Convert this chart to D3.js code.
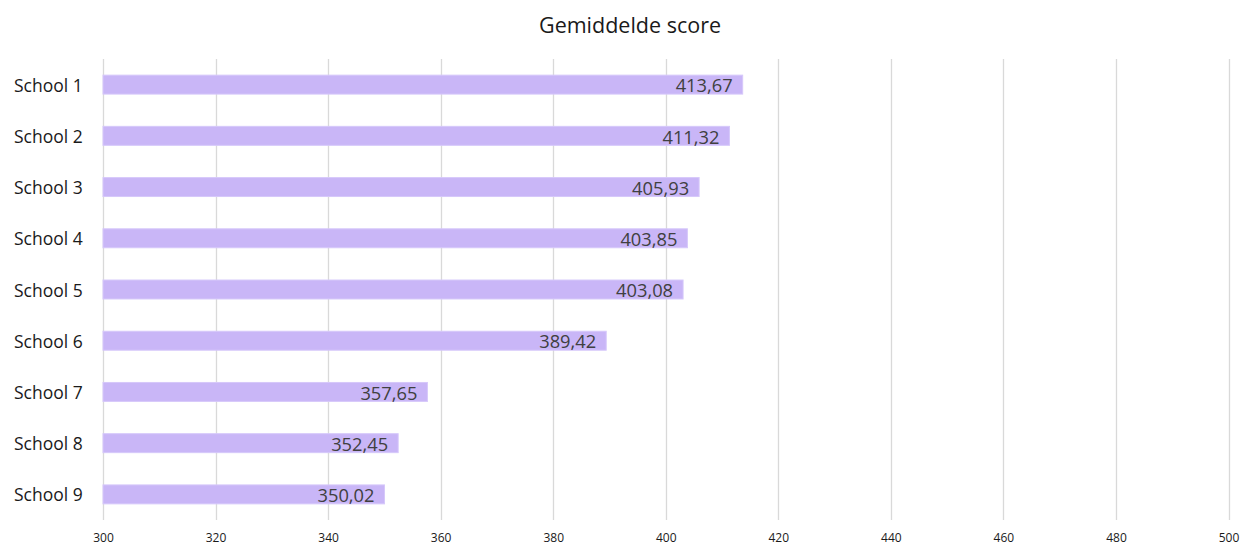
<!DOCTYPE html>
<html>
<head>
<meta charset="utf-8">
<script src="https://cdn.jsdelivr.net/npm/d3@7"></script>
<style>
  body { margin: 0; background: #fff; }
  svg { display: block; font-family: "Open Sans", sans-serif; }
</style>
</head>
<body>
<div id="chart"></div>
<script>
// data
const schools = ['School 1', 'School 2', 'School 3', 'School 4', 'School 5', 'School 6', 'School 7', 'School 8', 'School 9'];
const scores = [413.67, 411.32, 405.93, 403.85, 403.08, 389.42, 357.65, 352.45, 350.02];
const xTicks = [300, 320, 340, 360, 380, 400, 420, 440, 460, 480, 500];

const width = 1243;
const height = 546;
const margin = { top: 59, right: 14, bottom: 26, left: 103 };

const svg = d3.select('#chart')
  .append('svg')
  .attr('width', width)
  .attr('height', height);

const x = d3.scaleLinear()
  .domain([300, 500])
  .range([margin.left, width - margin.right - 0.5]);

const y = d3.scaleBand()
  .domain(schools)
  .range([margin.top, height - margin.bottom])
  .paddingInner(0.63)
  .paddingOuter(0.315);

// title
svg.append('text')
  .attr('x', 630)
  .attr('y', 33)
  .attr('text-anchor', 'middle')
  .attr('font-size', 21.5)
  .attr('fill', '#1a1a1a')
  .text('Gemiddelde score');

// gridlines
svg.append('g')
  .selectAll('line')
  .data(xTicks)
  .join('line')
  .attr('x1', d => Math.round(x(d)) + 0.5)
  .attr('x2', d => Math.round(x(d)) + 0.5)
  .attr('y1', margin.top)
  .attr('y2', height - margin.bottom)
  .attr('stroke', '#d9d9d9')
  .attr('stroke-width', 1.3);

// x axis labels
const xAxis = d3.axisBottom(x)
  .tickValues(xTicks)
  .tickSize(0)
  .tickPadding(13)
  .tickFormat(d3.format('d'));

svg.append('g')
  .attr('transform', `translate(0,${height - margin.bottom})`)
  .call(xAxis)
  .call(g => g.select('.domain').remove())
  .call(g => g.selectAll('text')
    .attr('font-size', 12)
    .attr('font-family', '"Open Sans", sans-serif')
    .attr('fill', '#1a1a1a'));

// y axis labels
const yAxis = d3.axisLeft(y).tickSize(0).tickPadding(19);
svg.append('g')
  .attr('transform', `translate(${margin.left},0)`)
  .call(yAxis)
  .call(g => g.select('.domain').remove())
  .call(g => g.selectAll('text')
    .attr('font-size', 17.5)
    .attr('font-family', '"Open Sans", sans-serif')
    .attr('fill', '#1a1a1a')
    .attr('text-anchor', 'start')
    .attr('dy', '0.4em')
    .attr('x', 14 - margin.left));

// bars
const rows = schools.map((s, i) => ({ school: s, score: scores[i] }));

svg.append('g')
  .selectAll('rect')
  .data(rows)
  .join('rect')
  .attr('x', x(300))
  .attr('y', d => y(d.school))
  .attr('width', d => x(d.score) - x(300))
  .attr('height', y.bandwidth())
  .attr('fill', '#c9b6f7')
  .attr('stroke', '#d6c8fa')
  .attr('stroke-width', 1);

// value labels
const fmt = d3.formatLocale({ decimal: ',', thousands: '.', grouping: [3], currency: ['€', ''] }).format('.2f');

svg.append('g')
  .selectAll('text')
  .data(rows)
  .join('text')
  .attr('x', d => x(d.score) - 10)
  .attr('y', d => y(d.school) + y.bandwidth() / 2)
  .attr('dy', '0.42em')
  .attr('text-anchor', 'end')
  .attr('font-size', 18.3)
  .attr('fill', '#404040')
  .text(d => fmt(d.score));
</script>
</body>
</html>
